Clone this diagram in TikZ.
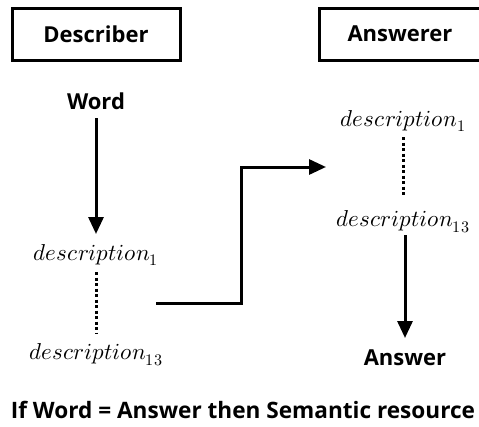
\documentclass[tikz,border=0pt]{standalone}
\usepackage{fontspec}
\usepackage{unicode-math}
\setmathfont{Latin Modern Math}
\setsansfont{Open Sans}
\usetikzlibrary{arrows.meta}
\begin{document}
\begin{tikzpicture}[x=1pt,y=-1pt,
  lbl/.style={font=\sffamily\bfseries\fontsize{22}{26}\selectfont, inner sep=0pt},
  desc/.style={font=\fontsize{23}{27}\selectfont, inner sep=0pt},
  role/.style={draw, line width=3pt},
  arr/.style={line width=3pt, -{Triangle[length=17pt,width=15pt]}},
  dots/.style={line width=3pt, dash pattern=on 3pt off 2.5pt}]
\useasboundingbox (0,0) rectangle (479,426);
\clip (0,0) rectangle (479,426);
% boxes
\draw[role] (12,8) rectangle (180,60);
\node[lbl] (describer) at (96,34) {Describer};
\draw[role] (319,8) rectangle (490,60);
\node[lbl] (answerer) at (400,34) {Answerer};
% left column
\node[lbl] (word) at (96,101) {Word};
\node[desc] (ld1) at (96,255) {$description_1$};
\node[desc] (ld13) at (96,355) {$description_{13}$};
\coordinate (wa) at (96,118);
\coordinate (wb) at (96,234);
\draw[arr] (wa) -- (wb);
\coordinate (lda) at (96,272);
\coordinate (ldb) at (96,334);
\draw[dots] (lda) -- (ldb);
% elbow
\coordinate (ea) at (156,303);
\coordinate (eb) at (326,167);
\draw[arr] (ea) -- (241,303) -- (241,167) -- (eb);
% right column
\node[desc] (rd1) at (403,121) {$description_1$};
\node[desc] (rd13) at (403,222) {$description_{13}$};
\node[lbl] (answer) at (405,358) {Answer};
\coordinate (rda) at (403,137);
\coordinate (rdb) at (403,197);
\draw[dots] (rda) -- (rdb);
\coordinate (ra) at (405,235);
\coordinate (rb) at (405,338);
\draw[arr] (ra) -- (rb);
% bottom
\node[lbl,font=\sffamily\bfseries\fontsize{22.6}{26}\selectfont] (cond) at (243,410) {If Word = Answer then Semantic resource};
\end{tikzpicture}
\end{document}
